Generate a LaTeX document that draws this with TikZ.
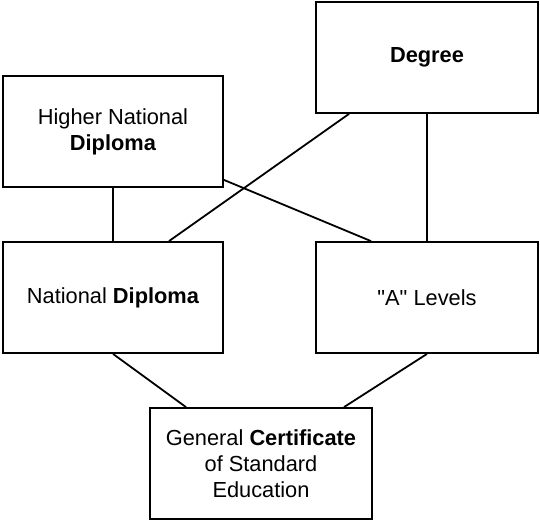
\documentclass[tikz,border=0pt]{standalone}
\usepackage{fontspec}
\setmainfont{Liberation Sans}[Ligatures=TeXOff]
\begin{document}
\begin{tikzpicture}[x=1pt,y=-1pt,
  boxnode/.style={draw, line width=1.8pt, align=center, inner sep=0pt,
    minimum height=111pt, font=\fontsize{21.8}{26}\selectfont},
  link/.style={line width=1.8pt}]
\useasboundingbox (0,0) rectangle (540,522);
\node[boxnode, minimum width=220pt] (hnd) at (113,131.5) {Higher National\\\textbf{Diploma}};
\node[boxnode, minimum width=222pt] (deg) at (427,57.5) {\textbf{Degree}};
\node[boxnode, minimum width=220pt] (nd) at (113,297.5) {National \textbf{Diploma}};
\node[boxnode, minimum width=222pt] (al) at (427,297.5) {"A" Levels};
\node[boxnode, minimum width=222pt] (gcse) at (261,463.5) {General \textbf{Certificate}\\of Standard\\Education};
\draw[link] (hnd.south) -- (nd.north);
\draw[link] (deg.south) -- (al.north);
\draw[link] ([xshift=-78pt]deg.south) -- ([xshift=56pt]nd.north);
\draw[link] ([yshift=8pt]hnd.south east) -- ([xshift=-56pt]al.north);
\draw[link] (nd.south) -- ([xshift=-75pt]gcse.north);
\draw[link] (al.south) -- ([xshift=83pt]gcse.north);
\end{tikzpicture}
\end{document}
